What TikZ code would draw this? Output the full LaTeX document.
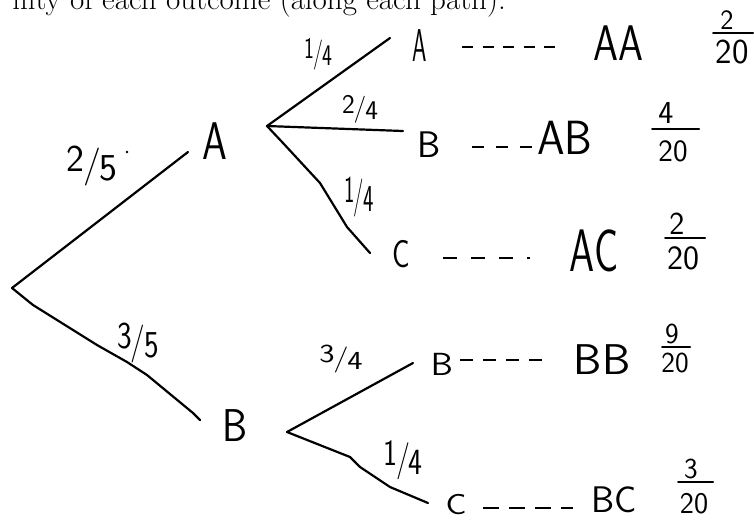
\documentclass[tikz,border=0pt]{standalone}
\usepackage{fontspec}
\usepackage{graphicx}
\usetikzlibrary{calc}
\newcommand\hsq[2]{\scalebox{#1}[1]{#2}}
\newcommand\slfrac[2]{\raisebox{0.12em}{#1}\kern-0.04em/\kern-0.04em\raisebox{-0.12em}{#2}}
\begin{document}
\begin{tikzpicture}[x=1pt,y=-1pt,
  hw/.style={font=\sffamily\fontsize{#1}{#1}\selectfont, inner sep=0pt, outer sep=0pt},
  branch/.style={line width=2.2pt, line join=round, line cap=round},
  dashrow/.style={line width=2pt},
  fbar/.style={line width=2pt, line cap=round}]
\useasboundingbox (0,0) rectangle (754,523);
\clip (0,0) rectangle (754,523);

% heading (cut off at the top)
\node[anchor=base east, font=\fontsize{31}{31}\selectfont, inner sep=0pt] (title) at (506,9.5) {ility of each outcome (along each path).};

% tree vertices and branch ends
\coordinate (r) at (12,288);
\coordinate (va) at (267,126);
\coordinate (vb) at (287,432);
\coordinate (eA1) at (188,152);
\coordinate (eB1) at (200,420);
\coordinate (eA2) at (390,38);
\coordinate (eB2) at (403,131);
\coordinate (eC2) at (370,253);
\coordinate (eB3) at (413,363);
\coordinate (eC3) at (428,503);

% first-level letters
\node[hw=53] (A1) at (215,141) {\hsq{0.75}{A}};
\node[hw=46] (B1) at (235,426) {\hsq{0.87}{B}};

% second-level letters
\node[hw=46] (A2) at (420,46) {\hsq{0.5}{A}};
\node[hw=37] (B2) at (429,145) {B};
\node[hw=39] (C2) at (401,254) {\hsq{0.75}{C}};
\node[hw=32] (B3) at (442,364) {\hsq{1.1}{B}};
\node[hw=29] (C3) at (456,505) {\hsq{1.2}{C}};

% outcomes
\node[hw=50] (AA) at (618,43) {\hsq{0.8}{AA}};
\node[hw=48] (AB) at (565,138) {\hsq{0.92}{AB}};
\node[hw=60] (AC) at (594,251) {\hsq{0.67}{AC}};
\node[hw=43] (BB) at (602,360) {\hsq{1.05}{BB}};
\node[hw=37] (BC) at (614,500) {BC};

% branch labels
\node[hw=38] (l25) at (92,166) {\slfrac{2}{5}};
\node[hw=38] (l35) at (138,343) {\hsq{0.82}{\slfrac{3}{5}}};
\node[hw=30] (l14a) at (318,54) {\hsq{0.7}{\slfrac{1}{4}}};
\node[hw=27] (l24) at (360,109) {\slfrac{2}{4}};
\node[hw=38] (l14b) at (359,197) {\hsq{0.58}{\slfrac{1}{4}}};
\node[hw=26] (l34) at (341,359) {\hsq{1.25}{\slfrac{3}{4}}};
\node[hw=37] (l14c) at (403,460) {\hsq{0.8}{\slfrac{1}{4}}};
\fill (127,152) circle (1.4);

% branches
\draw[branch] (r) -- (eA1);
\draw[branch] (r) -- (33,305) -- (97,345) -- (127,362) -- (147,375) -- (193,413) -- (eB1);
\draw[branch] (va) -- (eA2);
\draw[branch] (va) -- (eB2);
\draw[branch] (va) -- (283,143) -- (320,183) -- (347,227) -- (eC2);
\draw[branch] (vb) -- (eB3);
\draw[branch] (vb) -- (350,457) -- (360,467) -- (390,487) -- (eC3);

% dashed leaders
\draw[dashrow, dash pattern=on 11pt off 9.5pt] ($(A2.center)+(42,1)$) -- ($(AA.center)+(-63,4)$);
\draw[dashrow, dash pattern=on 12pt off 12pt] ($(B2.center)+(43,2)$) -- ($(AB.center)+(-33,9)$);
\draw[dashrow, dash pattern=on 14pt off 14pt] ($(C2.center)+(42,4)$) -- ($(AC.center)+(-64,7)$);
\draw[dashrow, dash pattern=on 13pt off 10pt] ($(B3.center)+(18,-4)$) -- ($(BB.center)+(-60,0)$);
\draw[dashrow, dash pattern=on 16pt off 10pt] ($(C3.center)+(27,3)$) -- ($(BC.center)+(-41,8)$);

% probabilities
\node[hw=28, anchor=base] (f1n) at (727,29) {2};
\node[hw=35, anchor=north] (f1d) at (732,40) {20};
\draw[fbar] (713,33) -- (753,33);
\node[hw=32, anchor=base] (f2n) at (666,123) {4};
\node[hw=31, anchor=north] (f2d) at (673,141) {20};
\draw[fbar] (652,129) -- (699,129);
\node[hw=32, anchor=base] (f3n) at (677,234) {2};
\node[hw=34, anchor=north] (f3d) at (683,247) {20};
\draw[fbar] (665,238) -- (705,238);
\node[hw=29, anchor=base] (f4n) at (672,343) {9};
\node[hw=29, anchor=north] (f4d) at (675,353) {20};
\draw[fbar] (662,347) -- (690,347);
\node[hw=29, anchor=base] (f5n) at (691,478) {3};
\node[hw=30, anchor=north] (f5d) at (694,493) {20};
\draw[fbar] (678,482) -- (713,482);
\end{tikzpicture}
\end{document}
